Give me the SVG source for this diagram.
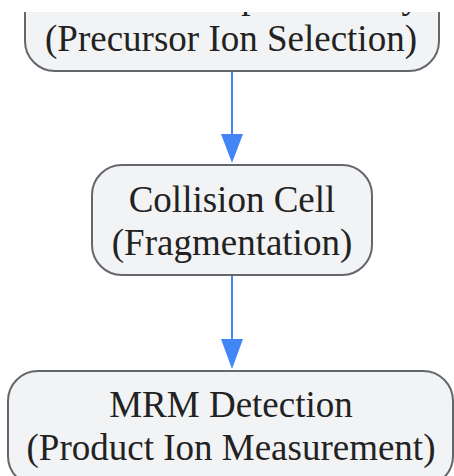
<svg xmlns="http://www.w3.org/2000/svg" width="454" height="476" viewBox="0 0 454 476">
  <defs>
    <style>
      .box { fill: #f2f3f5; stroke: #63666b; stroke-width: 2; }
      .lbl { font-family: "Liberation Serif", "Times New Roman", serif; font-size: 37px; fill: #222222; text-anchor: middle; }
      .edge { stroke: #4285f4; stroke-width: 2; fill: none; }
      .head { fill: #4285f4; }
    </style>
    <clipPath id="topclip">
      <rect x="0" y="12" width="454" height="464"/>
    </clipPath>
  </defs>
  <rect x="0" y="0" width="454" height="476" fill="#ffffff"/>
  <g id="connectors">
    <line class="edge" x1="232" y1="70" x2="232" y2="140"/>
    <polygon class="head" points="221,134 243,134 232,163"/>
    <line class="edge" x1="232" y1="276" x2="232" y2="345"/>
    <polygon class="head" points="221,339 243,339 232,369"/>
  </g>
  <g id="node-q1" clip-path="url(#topclip)">
    <rect class="box" x="25" y="-39" width="414" height="110" rx="30" ry="30"/>
    <text class="lbl" x="231" y="8">MS1: Mass Spectrometry</text>
    <text class="lbl" x="231" y="51">(Precursor Ion Selection)</text>
  </g>
  <g id="node-collision">
    <rect class="box" x="92" y="165" width="280" height="110" rx="30" ry="30"/>
    <text class="lbl" x="232" y="212">Collision Cell</text>
    <text class="lbl" x="232" y="255">(Fragmentation)</text>
  </g>
  <g id="node-mrm">
    <rect class="box" x="8" y="371" width="445" height="115" rx="30" ry="30"/>
    <text class="lbl" x="231" y="417">MRM Detection</text>
    <text class="lbl" x="231" y="460">(Product Ion Measurement)</text>
  </g>
</svg>
